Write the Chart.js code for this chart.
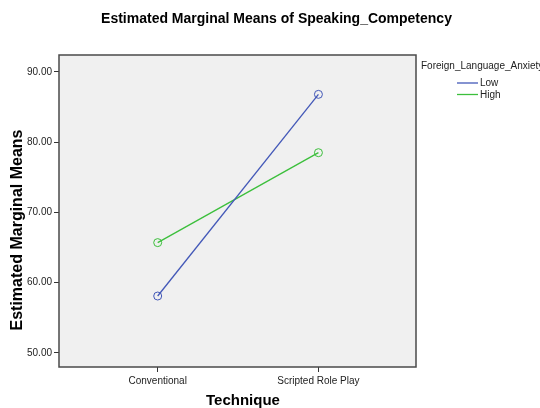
<!DOCTYPE html>
<html><head><meta charset="utf-8">
<script src="https://cdn.jsdelivr.net/npm/chart.js@4/dist/chart.umd.min.js"></script>
<style>html,body{margin:0;padding:0;background:#fff}#w{width:540px;height:408px;position:relative}</style>
</head><body><div id="w"><canvas id="c"></canvas></div>
<script>
const chartTitle = 'Estimated Marginal Means of Speaking_Competency';
const xTitle = 'Technique';
const yTitle = 'Estimated Marginal Means';
const legendTitle = 'Foreign_Language_Anxiety';
const categories = ['Conventional', 'Scripted Role Play'];
const seriesNames = ['Low', 'High'];
const lowValues = [58.1, 86.8];
const highValues = [65.7, 78.5];
const yTicks = [50, 60, 70, 80, 90];

const seriesValues = [lowValues, highValues];
const seriesColors = ['#4358b8', '#3cbf3c'];
const FONT = '"Liberation Sans", Arial, sans-serif';

const deco = {
  id: 'deco',
  beforeDraw(ch) {
    const {ctx, chartArea: a} = ch;
    ctx.save();
    ctx.fillStyle = '#f0f0f0';
    ctx.fillRect(a.left, a.top, a.right - a.left, a.bottom - a.top);
    ctx.restore();
  },
  afterDraw(ch) {
    const {ctx, chartArea: a} = ch;
    ctx.save();
    ctx.strokeStyle = '#4a4a4a';
    ctx.lineWidth = 1.5;
    ctx.strokeRect(a.left, a.top, a.right - a.left, a.bottom - a.top);
    ctx.fillStyle = '#000';
    ctx.textAlign = 'center';
    ctx.textBaseline = 'middle';
    // chart title
    ctx.font = 'bold 14px ' + FONT;
    ctx.fillText(chartTitle, 276.5, 19);
    // axis titles
    ctx.font = 'bold 15px ' + FONT;
    ctx.fillText(xTitle, 243, 401);
    ctx.save();
    ctx.translate(18, 230);
    ctx.rotate(-Math.PI / 2);
    ctx.font = 'bold 16px ' + FONT;
    ctx.fillText(yTitle, 0, 0);
    ctx.restore();
    // legend
    ctx.textAlign = 'left';
    ctx.font = '10px ' + FONT;
    ctx.fillStyle = '#222';
    ctx.fillText(legendTitle, 421, 66);
    ch.data.datasets.forEach((ds, i) => {
      const y = 83 + i * 11.5;
      ctx.strokeStyle = ds.borderColor;
      ctx.lineWidth = 1.3;
      ctx.beginPath();
      ctx.moveTo(457, y);
      ctx.lineTo(478, y);
      ctx.stroke();
      ctx.fillStyle = '#222';
      ctx.fillText(ds.label, 480, y + 0.5);
    });
    ctx.restore();
  }
};

new Chart(document.getElementById('c'), {
  type: 'line',
  data: {
    datasets: seriesNames.map((name, s) => ({
      label: name,
      data: categories.map((c, i) => ({x: i + 1, y: seriesValues[s][i]})),
      borderColor: seriesColors[s],
      backgroundColor: 'rgba(0,0,0,0)',
      borderWidth: 1.3,
      pointRadius: 4,
      pointBorderWidth: 1,
      pointBackgroundColor: 'rgba(0,0,0,0)',
      pointBorderColor: seriesColors[s],
      tension: 0
    }))
  },
  options: {
    responsive: true,
    maintainAspectRatio: false,
    animation: false,
    layout: {padding: {left: 13, right: 124, top: 55, bottom: 0}},
    plugins: {
      legend: {display: false},
      tooltip: {enabled: false},
      title: {display: false}
    },
    scales: {
      x: {
        type: 'linear',
        min: 0.386,
        max: 2.607,
        afterBuildTicks: s => { s.ticks = categories.map((c, i) => ({value: i + 1})); },
        afterFit: s => { s.height = 41; },
        ticks: {
          callback: v => categories[Math.round(v) - 1] || '',
          font: {family: FONT, size: 10},
          color: '#222',
          padding: 3,
          maxRotation: 0,
          autoSkip: false
        },
        grid: {drawOnChartArea: false, tickLength: 5, color: '#333', lineWidth: 1},
        border: {display: false}
      },
      y: {
        type: 'linear',
        min: 48,
        max: 92.4,
        afterBuildTicks: s => { s.ticks = yTicks.map(v => ({value: v})); },
        afterFit: s => { s.width = 46; },
        ticks: {
          callback: v => Number(v).toFixed(2),
          font: {family: FONT, size: 10},
          color: '#222',
          padding: 2
        },
        grid: {drawOnChartArea: false, tickLength: 5, color: '#333', lineWidth: 1},
        border: {display: false}
      }
    }
  },
  plugins: [deco]
});
</script>
</body></html>
